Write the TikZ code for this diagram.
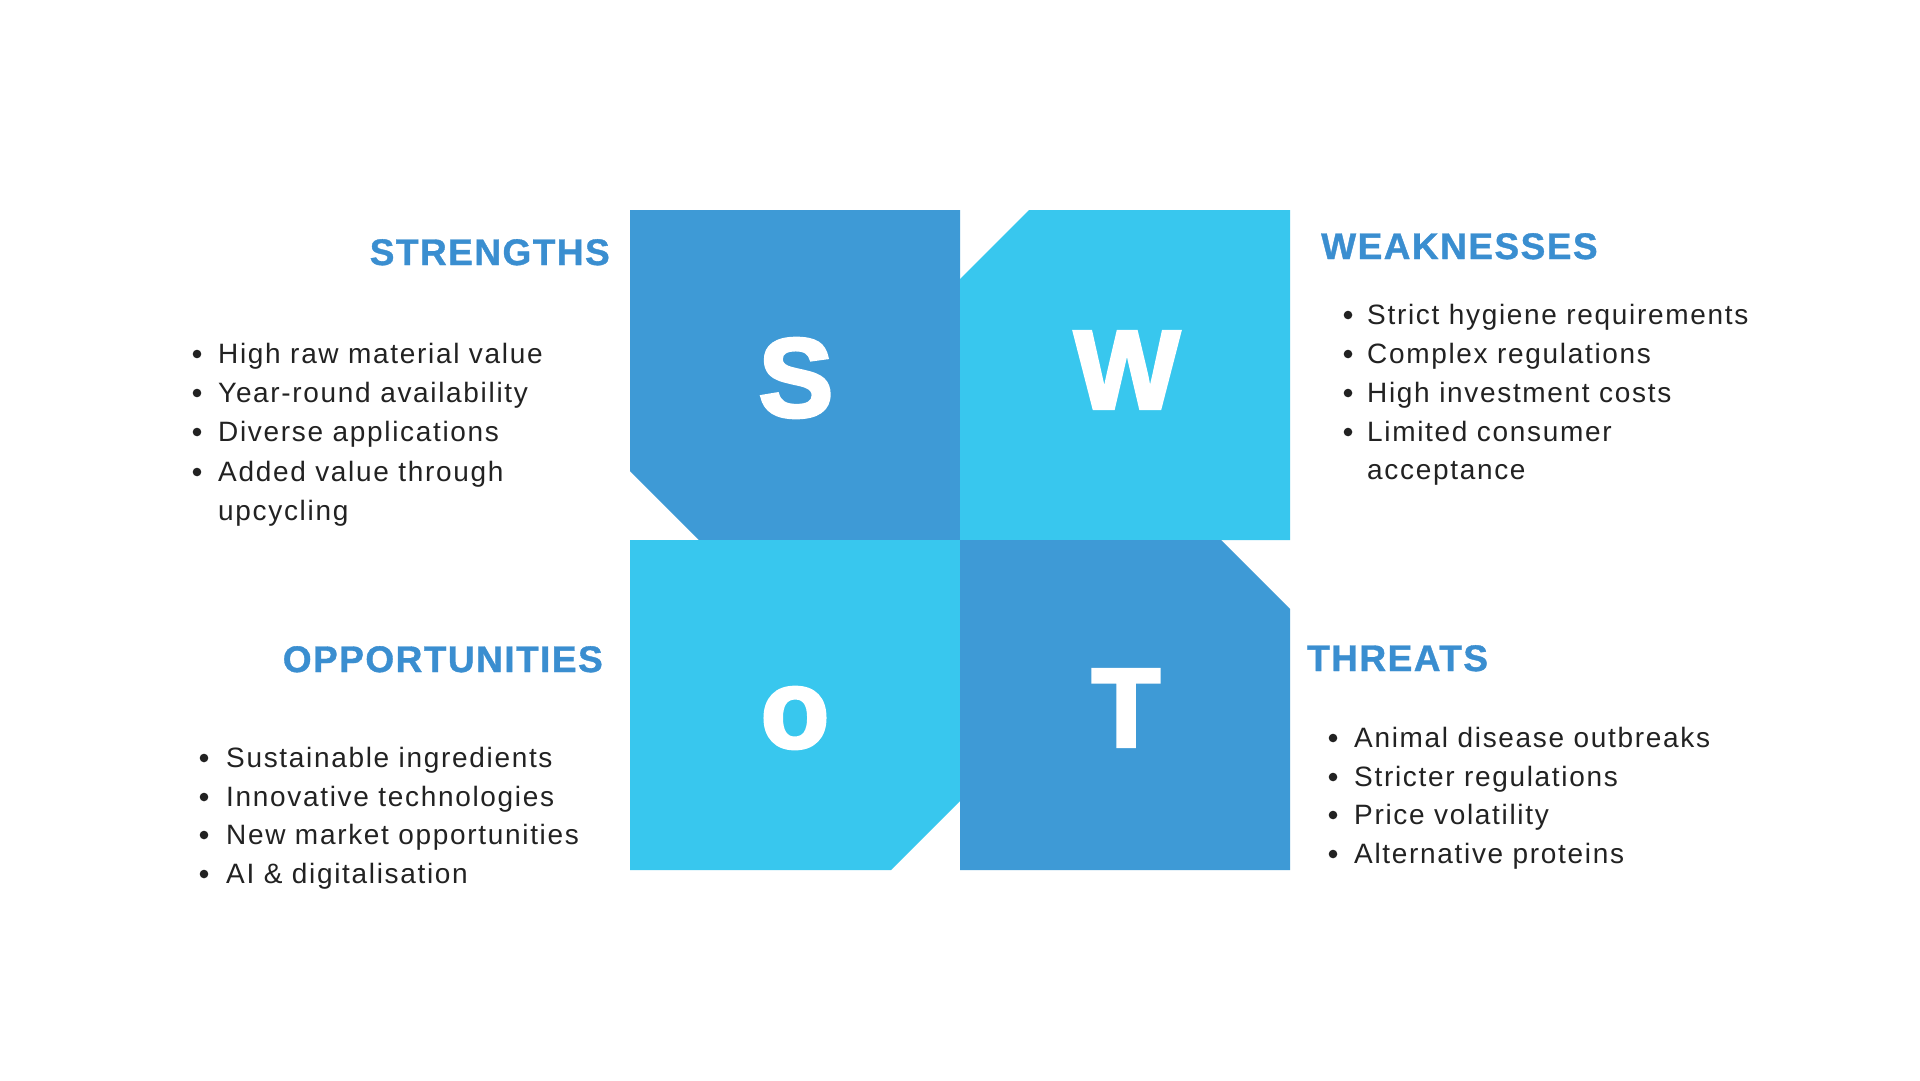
\documentclass[tikz,border=0pt]{standalone}
\usepackage{fontspec}
\setmainfont{Liberation Sans}
\newfontfamily\bodyfont{Liberation Sans}[LetterSpace=6]
\newfontfamily\headfont{Liberation Sans}[LetterSpace=4,BoldFeatures={FakeBold=1}]
\newfontfamily\bigfont{Liberation Sans}[BoldFeatures={FakeBold=3}]
\definecolor{darkblue}{HTML}{3E9AD6}
\definecolor{lightblue}{HTML}{38C7EE}
\definecolor{headblue}{HTML}{3A8ED0}
\definecolor{bodytext}{HTML}{222222}
\tikzset{
  quad/.style={draw=none},
  bigletter/.style={inner sep=0pt, text=white, font=\bigfont\bfseries\fontsize{112}{112}\selectfont},
  heading/.style={inner sep=0pt, text=headblue, font=\headfont\bfseries\fontsize{37}{40}\selectfont},
  item/.style={inner sep=0pt, anchor=base west, text=bodytext, font=\bodyfont\fontsize{28}{39}\selectfont},
  bul/.style={fill=bodytext},
}
\begin{document}
\begin{tikzpicture}[x=1pt,y=-1pt]
\useasboundingbox[fill=white] (0,0) rectangle (1920,1080);
% quadrants
\fill[darkblue,quad] (630,210) -- (960,210) -- (960,540) -- (699,540) -- (630,471) -- cycle;
\fill[lightblue,quad] (1029,210) -- (1290,210) -- (1290,540) -- (960,540) -- (960,279) -- cycle;
\fill[lightblue,quad] (630,540) -- (960,540) -- (960,801) -- (891,870) -- (630,870) -- cycle;
\fill[darkblue,quad] (960,540) -- (1221,540) -- (1290,609) -- (1290,870) -- (960,870) -- cycle;
% letters
\node[bigletter] (ls) at (796,378) {S};
\node[bigletter] (lw) at (1127,370) {W};
\node[bigletter] (lo) at (795,718) {o};
\node[bigletter] (lt) at (1126,708) {T};
% headings
\node[heading, anchor=base east] (hs) at (610,265) {STRENGTHS};
\node[heading, anchor=base west] (hw) at (1321,259) {WEAKNESSES};
\node[heading, anchor=base east] (ho) at (603,672) {OPPORTUNITIES};
\node[heading, anchor=base west] (ht) at (1307,671) {THREATS};
% strengths
\node[item] (s1) at (218,363) {High raw material value};
\node[item] (s2) at (218,402) {Year-round availability};
\node[item] (s3) at (218,441) {Diverse applications};
\node[item] (s4) at (218,481) {Added value through};
\node[item] (s5) at (218,520) {upcycling};
\foreach \y in {363,402,441,481} \fill[bul] (197,\y-9) circle (4.3);
% weaknesses
\node[item] (w1) at (1367,324) {Strict hygiene requirements};
\node[item] (w2) at (1367,363) {Complex regulations};
\node[item] (w3) at (1367,402) {High investment costs};
\node[item] (w4) at (1367,441) {Limited consumer};
\node[item] (w5) at (1367,479) {acceptance};
\foreach \y in {324,363,402,441} \fill[bul] (1348,\y-9) circle (4.3);
% opportunities
\node[item] (o1) at (226,767) {Sustainable ingredients};
\node[item] (o2) at (226,806) {Innovative technologies};
\node[item] (o3) at (226,844) {New market opportunities};
\node[item] (o4) at (226,883) {AI \& digitalisation};
\foreach \y in {767,806,844,883} \fill[bul] (204,\y-9) circle (4.3);
% threats
\node[item] (t1) at (1354,747) {Animal disease outbreaks};
\node[item] (t2) at (1354,786) {Stricter regulations};
\node[item] (t3) at (1354,824) {Price volatility};
\node[item] (t4) at (1354,863) {Alternative proteins};
\foreach \y in {747,786,824,863} \fill[bul] (1333,\y-9) circle (4.3);
\end{tikzpicture}
\end{document}
